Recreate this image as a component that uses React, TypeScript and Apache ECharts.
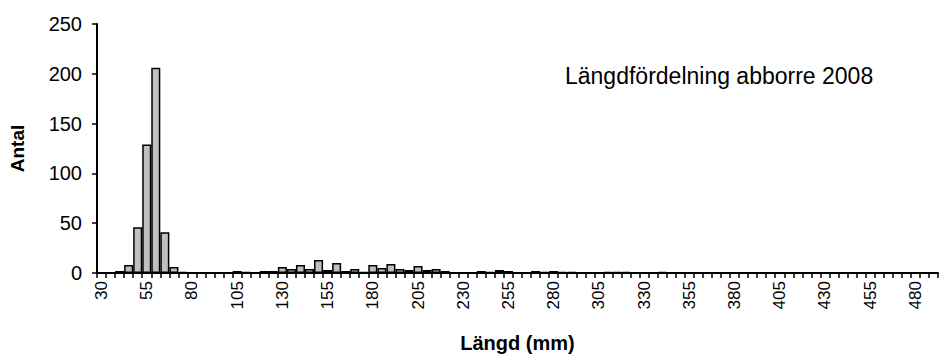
import React, { useEffect, useRef } from "react";
import * as echarts from "echarts";

const lengths: string[] = [];
for (let v = 30; v <= 490; v += 5) lengths.push(String(v));

const counts: number[] = [
  0, 0, 2, 8, 46, 129, 206, 41, 6, 1,
  0, 0, 0, 0, 0, 2, 1, 0, 2, 2,
  6, 4, 8, 4, 13, 3, 10, 2, 4, 1,
  8, 5, 9, 4, 3, 7, 3, 4, 2, 0,
  0, 0, 2, 1, 3, 2, 0, 0, 2, 1,
  2, 1, 1, 0, 0, 0, 1, 1, 1, 0,
  0, 0, 1, 0, 0, 0, 0, 0, 0, 0,
  0, 0, 0, 0, 0, 0, 0, 0, 0, 0,
  0, 0, 0, 0, 0, 0, 0, 0, 0, 0,
  0, 0, 0,
];

const yTicks = { min: 0, max: 250, interval: 50 };
const titleText = "Längdfördelning abborre 2008";
const xName = "Längd (mm)";
const yName = "Antal";

export default function App() {
  const ref = useRef<HTMLDivElement>(null);
  useEffect(() => {
    document.body.style.margin = "0";
    document.body.style.overflow = "hidden";
    if (!ref.current) return;
    const chart = echarts.init(ref.current, null, { renderer: "svg" });
    const font = "'Liberation Sans', Arial, sans-serif";
    chart.setOption({
      animation: false,
      backgroundColor: "#ffffff",
      textStyle: { fontFamily: font },
      title: {
        text: titleText,
        left: 565,
        top: 64,
        padding: 0,
        textStyle: { fontFamily: font, fontSize: 23, fontWeight: "normal", color: "#000" },
      },
      grid: { left: 96, right: 2, top: 24, bottom: 83, containLabel: false },
      xAxis: {
        type: "category",
        data: lengths,
        name: xName,
        nameLocation: "middle",
        nameGap: 60,
        nameTextStyle: { fontFamily: font, fontSize: 20, fontWeight: "bold", color: "#000" },
        axisLine: { lineStyle: { color: "#000", width: 2 } },
        axisTick: { show: true, interval: 0, length: 5, lineStyle: { color: "#000", width: 1.5 } },
        axisLabel: {
          interval: 4,
          rotate: 90,
          margin: 8,
          fontFamily: font,
          fontSize: 17,
          color: "#000",
        },
        splitLine: { show: false },
      },
      yAxis: {
        type: "value",
        min: yTicks.min,
        max: yTicks.max,
        interval: yTicks.interval,
        name: yName,
        nameLocation: "middle",
        nameGap: 70,
        nameTextStyle: { fontFamily: font, fontSize: 19, fontWeight: "bold", color: "#000" },
        axisLine: { show: true, lineStyle: { color: "#000", width: 2 } },
        axisTick: { show: true, length: 5, lineStyle: { color: "#000", width: 1.5 } },
        axisLabel: { fontFamily: font, fontSize: 20, color: "#000", margin: 15 },
        splitLine: { show: false },
      },
      series: [
        {
          type: "bar",
          data: counts,
          barWidth: "100%",
          barCategoryGap: "0%",
          itemStyle: { color: "#c0c0c0", borderColor: "#000", borderWidth: 1.5 },
        },
      ],
    });
    return () => chart.dispose();
  }, []);
  return <div ref={ref} style={{ width: 940, height: 358 }} />;
}
